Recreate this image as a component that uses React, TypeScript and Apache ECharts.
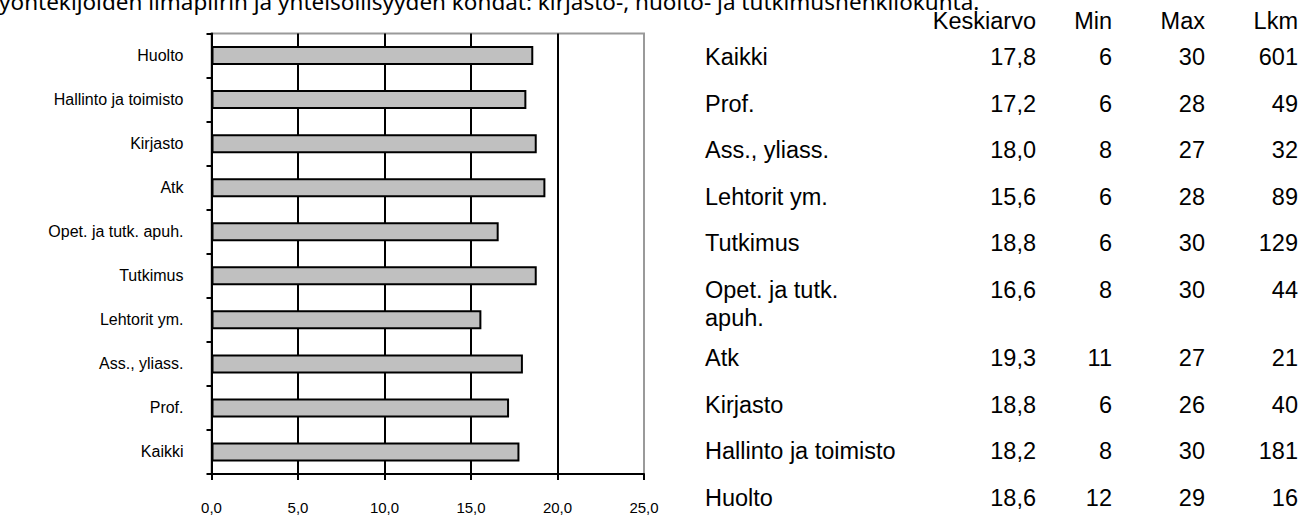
import React, { useEffect, useRef } from "react";
import * as echarts from "echarts";

// Chart categories (bottom to top on the chart, top to bottom in the table)
const categories = [
  "Kaikki",
  "Prof.",
  "Ass., yliass.",
  "Lehtorit ym.",
  "Tutkimus",
  "Opet. ja tutk. apuh.",
  "Atk",
  "Kirjasto",
  "Hallinto ja toimisto",
  "Huolto",
];
const tableLabels = [
  "Kaikki",
  "Prof.",
  "Ass., yliass.",
  "Lehtorit ym.",
  "Tutkimus",
  "Opet. ja tutk.\napuh.",
  "Atk",
  "Kirjasto",
  "Hallinto ja toimisto",
  "Huolto",
];
const means = [17.8, 17.2, 18.0, 15.6, 18.8, 16.6, 19.3, 18.8, 18.2, 18.6];
const mins = [6, 6, 8, 6, 6, 8, 11, 6, 8, 12];
const maxs = [30, 28, 27, 28, 30, 30, 27, 26, 30, 29];
const counts = [601, 49, 32, 89, 129, 44, 21, 40, 181, 16];
const tableHeaders = ["Keskiarvo", "Min", "Max", "Lkm"];
const titleText =
  "Työntekijöiden ilmapiirin ja yhteisöllisyyden kohdat: kirjasto-, huolto- ja tutkimushenkilökunta.";

const fmt = (v: number) => v.toFixed(1).replace(".", ",");

export default function App() {
  const ref = useRef<HTMLDivElement>(null);
  useEffect(() => {
    if (!ref.current) return;
    const chart = echarts.init(ref.current, undefined, { renderer: "svg" });
    const font = "'Liberation Sans', Arial, sans-serif";
    const tf = 23.5;
    const colRight = [1036, 1112, 1205, 1298];
    const labelX = 705;
    const rowStart = 57;
    const rowStep = 46.5;
    const wrapExtra = 22;
    const lh = 28;
    const graphics: any[] = [];
    graphics.push({
      type: "text",
      left: -13,
      top: -10,
      style: { text: titleText, font: `22.5px 'Noto Sans', sans-serif`, fill: "#000" },
    });
    tableHeaders.forEach((h, i) => {
      graphics.push({
        type: "text",
        x: colRight[i],
        y: 21,
        style: {
          text: h,
          font: `${tf}px ${font}`,
          fill: "#000",
          align: "right",
          verticalAlign: "middle",
        },
      });
    });
    let y = rowStart;
    tableLabels.forEach((lab, r) => {
      const values = [fmt(means[r]), String(mins[r]), String(maxs[r]), String(counts[r])];
      graphics.push({
        type: "text",
        x: labelX,
        y: y - lh / 2,
        style: {
          text: lab,
          font: `${tf}px ${font}`,
          lineHeight: lh,
          fill: "#000",
          align: "left",
          verticalAlign: "top",
        },
      });
      values.forEach((v, i) => {
        graphics.push({
          type: "text",
          x: colRight[i],
          y: y - lh / 2,
          style: {
            text: v,
            font: `${tf}px ${font}`,
            lineHeight: lh,
            fill: "#000",
            align: "right",
            verticalAlign: "top",
          },
        });
      });
      y += rowStep + (lab.includes("\n") ? wrapExtra : 0);
    });

    chart.setOption({
      animation: false,
      backgroundColor: "#fff",
      grid: {
        left: 211.5,
        top: 33.5,
        width: 432.5,
        height: 440.5,
        show: true,
        borderColor: "#9a9a9a",
        borderWidth: 2,
        backgroundColor: "#fff",
      },
      xAxis: {
        type: "value",
        min: 0,
        max: 25,
        interval: 5,
        axisLine: { show: true, lineStyle: { color: "#000", width: 2 } },
        axisTick: { show: true, length: 6, lineStyle: { color: "#000", width: 2 } },
        axisLabel: {
          formatter: (v: number) => fmt(v),
          fontSize: 15,
          fontFamily: font,
          color: "#000",
          margin: 26,
        },
        splitLine: {
          show: true,
          showMinLine: false,
          showMaxLine: false,
          lineStyle: { color: "#000", width: 2 },
        },
      },
      yAxis: {
        type: "category",
        data: categories,
        axisLine: { show: true, lineStyle: { color: "#000", width: 2 } },
        axisTick: { show: true, length: 5, lineStyle: { color: "#000", width: 2 } },
        axisLabel: { fontSize: 16, fontFamily: font, color: "#000", margin: 28 },
        splitLine: { show: false },
      },
      series: [
        {
          type: "bar",
          data: means,
          barWidth: 19,
          itemStyle: { color: "#C0C0C0", borderColor: "#000", borderWidth: 2 },
        },
      ],
      graphic: graphics,
    });
    return () => chart.dispose();
  }, []);
  return (
    <div
      ref={ref}
      style={{ position: "absolute", left: 0, top: 0, width: 1314, height: 515 }}
    />
  );
}
